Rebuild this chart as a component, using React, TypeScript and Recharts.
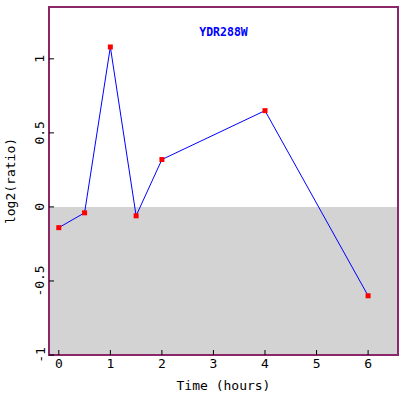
import { LineChart, Line, XAxis, YAxis, ReferenceArea } from "recharts";

const hours = [0, 0.5, 1, 1.5, 2, 4, 6];
const log2Ratio = [-0.14, -0.04, 1.08, -0.06, 0.32, 0.65, -0.6];
const xTicks = [0, 1, 2, 3, 4, 5, 6];
const yTicks = [-1, -0.5, 0, 0.5, 1];
const geneName = "YDR288W";

const data = hours.map((t, i) => ({ t, v: log2Ratio[i] }));

const FONT = "'DejaVu Sans Mono', monospace";
const FRAME = "#8b2668";

const YTick = (props: any) => {
  const { x, y, payload } = props;
  return (
    <g>
      <line x1={x} y1={y} x2={x + 5} y2={y} stroke="#000" />
      <text
        x={x - 9}
        y={y}
        transform={`rotate(-90 ${x - 9} ${y})`}
        textAnchor="middle"
        dominantBaseline="central"
        fontSize={13}
        fontFamily={FONT}
        fill="#000"
      >
        {payload.value}
      </text>
    </g>
  );
};

const XTick = (props: any) => {
  const { x, y, payload } = props;
  return (
    <g>
      <line x1={x} y1={y} x2={x} y2={y - 5} stroke="#000" />
      <text
        x={x}
        y={y + 8}
        textAnchor="middle"
        dominantBaseline="central"
        fontSize={13}
        fontFamily={FONT}
        fill="#000"
      >
        {payload.value}
      </text>
    </g>
  );
};

const YLabel = (props: any) => {
  const vb = props.viewBox || {};
  const cx = (vb.x ?? 0) + 10;
  const cy = (vb.y ?? 0) + (vb.height ?? 0) / 2;
  return (
    <text
      x={cx}
      y={cy}
      transform={`rotate(-90 ${cx} ${cy})`}
      textAnchor="middle"
      dominantBaseline="central"
      fontSize={13}
      fontFamily={FONT}
      fill="#000"
    >
      log2(ratio)
    </text>
  );
};

const SquareDot = (props: any) => {
  const { cx, cy } = props;
  return <rect x={cx - 2.5} y={cy - 2.5} width={5} height={5} fill="#ff0000" />;
};

export default function App() {
  return (
    <div style={{ fontFamily: FONT }}>
      <style>{`body{margin:0}`}</style>
      <LineChart
        width={403}
        height={394}
        data={data}
        margin={{ top: 7, right: 5, bottom: 0, left: 0 }}
      >
        <XAxis
          dataKey="t"
          type="number"
          domain={[-0.19, 6.58]}
          ticks={xTicks}
          allowDataOverflow
          axisLine={false}
          tickLine={false}
          tickSize={0}
          tickMargin={0}
          height={39}
          tick={<XTick />}
          label={{
            value: "Time (hours)",
            position: "insideBottom",
            offset: 4,
            fontSize: 13,
            fontFamily: FONT,
            fill: "#000",
          }}
        />
        <YAxis
          type="number"
          domain={[-1, 1.35]}
          ticks={yTicks}
          allowDataOverflow
          axisLine={false}
          tickLine={false}
          tickSize={0}
          tickMargin={0}
          width={49}
          tick={<YTick />}
          label={<YLabel />}
        />
        <ReferenceArea y1={-1} y2={0} fill="#d3d3d3" fillOpacity={1} stroke="none" />
        <ReferenceArea
          x1={-0.19}
          x2={6.58}
          y1={-1}
          y2={1.35}
          fill="none"
          stroke={FRAME}
          strokeWidth={2}
          label={{
            value: geneName,
            position: "insideTop",
            offset: 21,
            fill: "#0000ff",
            fontSize: 11.5,
            fontWeight: "bold",
            fontFamily: FONT,
          }}
        />
        <Line
          dataKey="v"
          stroke="#0000ff"
          strokeWidth={1}
          dot={<SquareDot />}
          activeDot={false}
          isAnimationActive={false}
        />
      </LineChart>
    </div>
  );
}
